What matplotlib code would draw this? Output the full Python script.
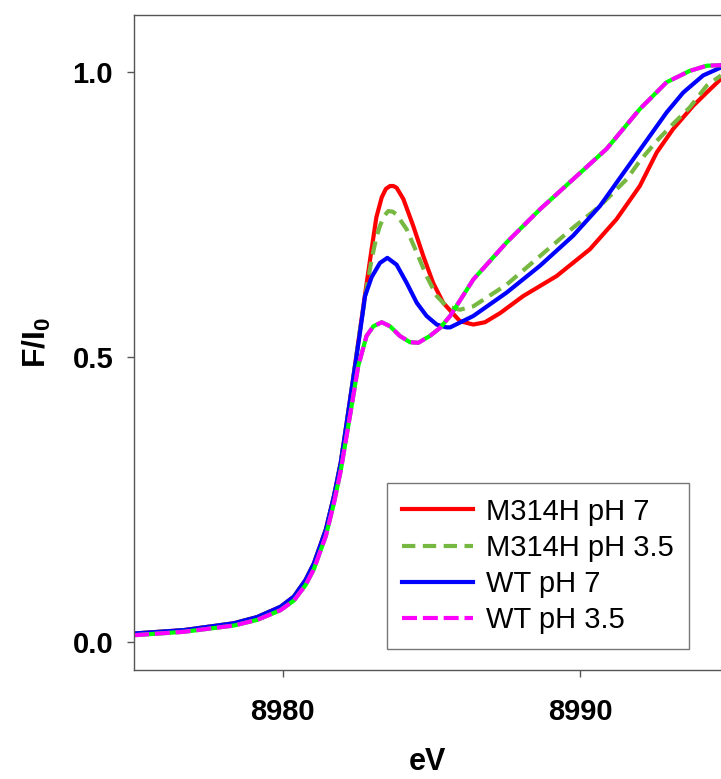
import matplotlib
matplotlib.use("Agg")
import matplotlib.pyplot as plt

plt.rcParams['font.family'] = ['Liberation Sans', 'DejaVu Sans']
plt.rcParams['mathtext.fontset'] = 'custom'
plt.rcParams['mathtext.rm'] = 'Liberation Sans'
plt.rcParams['mathtext.bf'] = 'Liberation Sans:bold'

# shared pre-edge (eV, F/I0)
edge_x = [8975.0, 8976.68, 8978.36, 8979.15, 8979.93, 8980.38, 8980.77, 8981.05,
          8981.45, 8981.72, 8981.95, 8982.12]
edge_y = [0.015, 0.021, 0.033, 0.044, 0.062, 0.080, 0.109, 0.138,
          0.197, 0.255, 0.314, 0.373]

# M314H pH 7
m7_x = [8982.35, 8982.58, 8982.77, 8982.99, 8983.15, 8983.33, 8983.47, 8983.61, 8983.72,
        8983.83, 8984.06, 8984.39, 8984.73, 8985.06, 8985.40, 8985.96, 8986.41,
        8986.80, 8987.31, 8988.09, 8989.21, 8990.33, 8991.23, 8992.01, 8992.58,
        8993.13, 8993.81, 8994.26, 8994.74]
m7_y = [0.455, 0.540, 0.610, 0.689, 0.745, 0.780, 0.795, 0.800, 0.800,
        0.797, 0.777, 0.730, 0.677, 0.630, 0.595, 0.563, 0.557,
        0.561, 0.577, 0.607, 0.642, 0.689, 0.742, 0.800, 0.859,
        0.900, 0.941, 0.964, 0.988]

# M314H pH 3.5
m35_x = [8982.35, 8982.58, 8982.77, 8982.99, 8983.15, 8983.27, 8983.42, 8983.55, 8983.70,
         8983.83, 8984.17, 8984.51, 8984.84, 8985.18, 8985.51, 8985.96, 8986.41,
         8987.53, 8988.65, 8989.77, 8990.67, 8991.57, 8992.01, 8992.58, 8993.13,
         8993.69, 8994.26, 8994.74]
m35_y = [0.455, 0.540, 0.605, 0.671, 0.710, 0.730, 0.748, 0.756, 0.755,
         0.750, 0.724, 0.683, 0.642, 0.607, 0.589, 0.583, 0.589,
         0.627, 0.677, 0.727, 0.765, 0.812, 0.844, 0.879, 0.909,
         0.938, 0.976, 0.994]

# WT pH 7
wt7_x = [8982.35, 8982.58, 8982.77, 8982.99, 8983.27, 8983.52, 8983.83, 8984.17,
         8984.51, 8984.84, 8985.18, 8985.51, 8985.63, 8986.41, 8987.53, 8988.65,
         8989.77, 8990.67, 8991.23, 8991.79, 8992.35, 8992.91, 8993.47, 8994.14,
         8994.74]
wt7_y = [0.455, 0.536, 0.607, 0.640, 0.665, 0.674, 0.662, 0.630,
         0.595, 0.572, 0.557, 0.552, 0.552, 0.572, 0.613, 0.660,
         0.713, 0.765, 0.806, 0.847, 0.888, 0.929, 0.964, 0.994,
         1.008]

# WT pH 3.5
wt35_x = [8975.0, 8976.68, 8978.36, 8979.15, 8979.93, 8980.38, 8980.77, 8981.05,
          8981.45, 8981.72, 8981.95, 8982.26, 8982.54, 8982.82, 8983.05, 8983.33,
          8983.61, 8983.94, 8984.28, 8984.56, 8984.95, 8985.29, 8985.63, 8986.41,
          8987.53, 8988.65, 8989.77, 8990.89, 8992.01, 8992.91, 8993.69, 8994.26,
          8994.74]
wt35_y = [0.012, 0.018, 0.029, 0.039, 0.056, 0.073, 0.100, 0.128,
          0.186, 0.243, 0.300, 0.396, 0.484, 0.537, 0.554, 0.561,
          0.554, 0.537, 0.526, 0.525, 0.537, 0.551, 0.572, 0.636,
          0.701, 0.759, 0.812, 0.865, 0.935, 0.982, 1.002, 1.011,
          1.012]

labels = ['M314H pH 7', 'M314H pH 3.5', 'WT pH 7', 'WT pH 3.5']
xticks = [8980, 8990]
yticks = [0.0, 0.5, 1.0]
ytick_labels = ['0.0', '0.5', '1.0']

W, H = 721, 779
fig = plt.figure(figsize=(W / 100, H / 100), dpi=100)
ax = fig.add_axes([134 / W, (H - 670) / H, (721 - 134) / W, (670 - 15) / H])

lw = 3.0
ax.plot(edge_x + m7_x, edge_y + m7_y, color='#ff0000', lw=lw, label=labels[0])
ax.plot(edge_x + m35_x, edge_y + m35_y, color='#77b843', lw=lw, dashes=(3.2, 1.8),
        label=labels[1])
ax.plot(edge_x + wt7_x, edge_y + wt7_y, color='#0000ff', lw=lw, label=labels[2])
ax.plot(wt35_x, wt35_y, color='#00ff00', lw=lw)
ax.plot(wt35_x, wt35_y, color='#ff00ff', lw=lw, dashes=(3.6, 1.4), label=labels[3])

ax.set_xlim(8975.0, 8994.74)
ax.set_ylim(-0.049, 1.1)
ax.set_xticks(xticks)
ax.set_yticks(yticks)
ax.set_yticklabels(ytick_labels)
for lab in ax.get_xticklabels() + ax.get_yticklabels():
    lab.set_fontweight('bold')
ax.tick_params(axis='both', labelsize=21, length=5, width=1, color='#555555', direction='out')
ax.tick_params(axis='x', pad=15)
ax.tick_params(axis='y', pad=10)
ax.spines['right'].set_visible(False)
for s in ['left', 'top', 'bottom']:
    ax.spines[s].set_color('#555555')
    ax.spines[s].set_linewidth(1.0)

ax.set_xlabel('eV', fontsize=22, fontweight='bold', labelpad=15)
ax.set_ylabel(r'$\mathbf{F/I_0}$', fontsize=23, labelpad=14)

leg = ax.legend(loc='upper left', bbox_to_anchor=(387 / W, 1 - 483 / H),
                bbox_transform=fig.transFigure, borderaxespad=0, fontsize=21,
                fancybox=False, framealpha=1, edgecolor='#777777',
                handlelength=2.45, handletextpad=0.45, labelspacing=0.28,
                borderpad=0.5)
leg.get_frame().set_linewidth(1.0)

fig.savefig('out.png', dpi=100)
